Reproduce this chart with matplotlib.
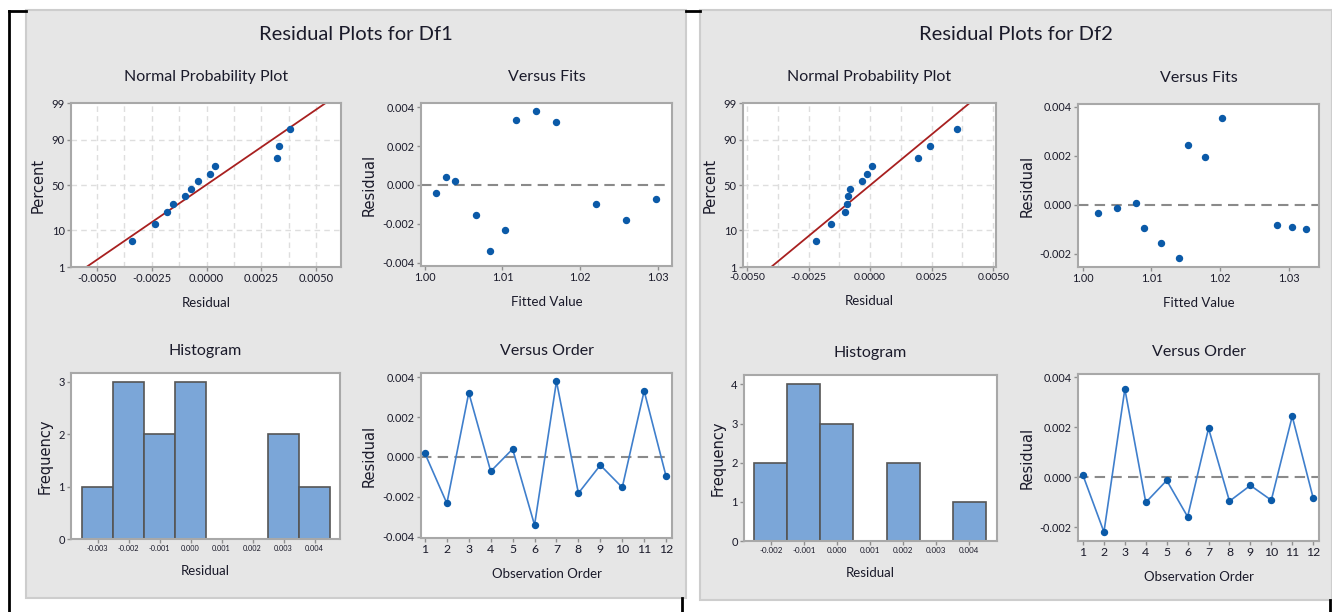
import numpy as np
import matplotlib
matplotlib.use('Agg')
import matplotlib.pyplot as plt
from matplotlib.patches import Rectangle
from matplotlib.lines import Line2D
from matplotlib.ticker import FormatStrFormatter
from statistics import NormalDist

plt.rcParams['font.family'] = ['Lato', 'DejaVu Sans']

# ---- dados ----
obs = list(range(1, 13))

# Df1
res1 = [0.00018, -0.00233, 0.00323, -0.00072, 0.00040, -0.00342,
        0.00380, -0.00182, -0.00041, -0.00153, 0.00332, -0.00097]
fit1 = [1.00393, 1.01034, 1.01684, 1.02974, 1.00274, 1.00846,
        1.01436, 1.02594, 1.00141, 1.00654, 1.01171, 1.02197]
hist1_centers = [-0.003, -0.002, -0.001, 0.0, 0.001, 0.002, 0.003, 0.004]
hist1_counts = [1, 3, 2, 3, 0, 0, 2, 1]

# Df2
res2 = [0.00008, -0.00218, 0.00353, -0.00100, -0.00012, -0.00157,
        0.00196, -0.00095, -0.00032, -0.00091, 0.00244, -0.00082]
fit2 = [1.00769, 1.01398, 1.02018, 1.03246, 1.00498, 1.01142,
        1.01776, 1.00885, 1.00227, 1.03038, 1.01524, 1.02830]
hist2_centers = [-0.002, -0.001, 0.0, 0.001, 0.002, 0.003, 0.004]
hist2_counts = [2, 4, 3, 0, 2, 0, 1]

# percentis do grafico de probabilidade normal
npp_pct = [5.6, 13.7, 21.8, 29.8, 37.9, 46.0, 54.0, 62.1, 70.2, 78.2, 86.3, 94.4]
pct_ticks = [1, 10, 50, 90, 99]

# ---- estilo ----
W, H = 1332, 612
BLUE = '#0b5aa8'
LINE = '#3f7fcc'
RED = '#a82020'
SPINE = '#a8a8a8'
TXT = '#1a1a2a'

_nd = NormalDist()
_ppf = np.vectorize(lambda v: _nd.inv_cdf(v / 100.0), otypes=[float])
_cdf = np.vectorize(lambda z: _nd.cdf(z) * 100.0, otypes=[float])


def fwd(p):
    p = np.clip(np.asarray(p, dtype=float), 1e-9, 100 - 1e-9)
    return _ppf(p)


def inv(z):
    return _cdf(np.asarray(z, dtype=float))


def rect(x0, y0, x1, y1):
    return [x0 / W, 1 - y1 / H, (x1 - x0) / W, (y1 - y0) / H]


def estilo(ax, ylab, xlab, xfs=8, yfs=8):
    for s in ax.spines.values():
        s.set_color(SPINE)
        s.set_linewidth(1.5)
    ax.tick_params(direction='out', length=3, width=1, color='#909090',
                   labelcolor=TXT, pad=1.5)
    ax.tick_params(axis='x', labelsize=xfs)
    ax.tick_params(axis='y', labelsize=yfs)
    ax.set_ylabel(ylab, family=['DejaVu Sans'], fontsize=10.5, color=TXT, labelpad=4)
    ax.set_xlabel(xlab, fontsize=9.5, color=TXT, labelpad=9)


fig = plt.figure(figsize=(W / 100, H / 100), dpi=100)
fig.patch.set_facecolor('white')

# paineis cinza
for (x0, y0, x1, y1) in [(26, 10, 686, 598), (700, 10, 1332, 600)]:
    fig.patches.append(Rectangle((x0 / W, 1 - y1 / H), (x1 - x0) / W, (y1 - y0) / H,
                                 transform=fig.transFigure, facecolor='#e6e6e6',
                                 edgecolor='#cdcdcd', lw=1.5, zorder=-5))

# bordas pretas (tabela)
for xs, ys in [([9, 9], [11, 612]), ([9, 26], [11, 11]), ([686, 700], [11, 11]),
               ([682, 682], [598, 612]), ([1329.5, 1329.5], [600, 612])]:
    fig.add_artist(Line2D([x / W for x in xs], [1 - y / H for y in ys],
                          transform=fig.transFigure, color='black', lw=2, zorder=-4))


def painel(res, fit, hcent, hcount, boxes, lims, titulo, tx, npp_fs, hist_fs):
    b_npp, b_fit, b_hist, b_ord = boxes
    l_npp, l_fit, l_fity, l_hist, l_histy, l_ord, l_ordy, yt_res = lims

    fig.text(tx / W, 1 - 35 / H, titulo, ha='center', va='center',
             fontsize=14.5, color=TXT)

    # Normal Probability Plot
    ax = fig.add_axes(rect(*b_npp))
    ax.set_yscale('function', functions=(fwd, inv))
    srt = np.sort(res)
    mu, sd = np.mean(res), np.std(res, ddof=1)
    xs_line = [mu + sd * _nd.inv_cdf(0.01), mu + sd * _nd.inv_cdf(0.99)]
    for v in np.arange(-0.005, 0.0051, 0.00125):
        ax.axvline(v, color='#dedede', lw=1, ls=(0, (4, 3)), zorder=0)
    for v in [10, 50, 90]:
        ax.axhline(v, color='#dedede', lw=1, ls=(0, (4, 3)), zorder=0)
    ax.plot(xs_line, [1, 99], color=RED, lw=1.3, zorder=2)
    ax.plot(srt, npp_pct, 'o', color=BLUE, ms=4.3, zorder=3)
    ax.set_xlim(*l_npp)
    ax.set_ylim(1, 99)
    ax.set_yticks(pct_ticks)
    ax.set_yticklabels([str(t) for t in pct_ticks])
    ax.minorticks_off()
    ax.set_xticks([-0.005, -0.0025, 0.0, 0.0025, 0.005])
    ax.xaxis.set_major_formatter(FormatStrFormatter('%.4f'))
    estilo(ax, 'Percent', 'Residual', xfs=npp_fs, yfs=8)
    ax.set_title('Normal Probability Plot', fontsize=11.5, color=TXT, pad=16)

    # Versus Fits
    ax = fig.add_axes(rect(*b_fit))
    ax.axhline(0, color='#8a8a8a', lw=1.5, ls=(0, (5, 3)), zorder=1)
    ax.plot(fit, res, 'o', color=BLUE, ms=4.3, zorder=3)
    ax.set_xlim(*l_fit)
    ax.set_ylim(*l_fity)
    ax.set_xticks([1.00, 1.01, 1.02, 1.03])
    ax.xaxis.set_major_formatter(FormatStrFormatter('%.2f'))
    ax.set_yticks(yt_res)
    ax.yaxis.set_major_formatter(FormatStrFormatter('%.3f'))
    estilo(ax, 'Residual', 'Fitted Value', xfs=7.8, yfs=7.8)
    ax.set_title('Versus Fits', fontsize=11.5, color=TXT, pad=16)

    # Histogram
    ax = fig.add_axes(rect(*b_hist))
    ax.bar(hcent, hcount, width=0.001, color='#7ba6d8', edgecolor='#555555',
           lw=1.2, zorder=2)
    ax.set_xlim(*l_hist)
    ax.set_ylim(*l_histy)
    ax.set_xticks(hcent)
    ax.set_xticklabels([f'{c:.3f}' for c in hcent])
    ax.set_yticks(range(0, int(max(hcount)) + 1))
    estilo(ax, 'Frequency', 'Residual', xfs=hist_fs, yfs=8)
    ax.set_title('Histogram', fontsize=11.5, color=TXT, pad=13)

    # Versus Order
    ax = fig.add_axes(rect(*b_ord))
    ax.axhline(0, color='#8a8a8a', lw=1.5, ls=(0, (5, 3)), zorder=1)
    ax.plot(obs, res, '-', color=LINE, lw=1.2, zorder=2)
    ax.plot(obs, res, 'o', color=BLUE, ms=4.3, zorder=3)
    ax.set_xlim(*l_ord)
    ax.set_ylim(*l_ordy)
    ax.set_xticks(obs)
    ax.set_yticks(yt_res)
    ax.yaxis.set_major_formatter(FormatStrFormatter('%.3f'))
    estilo(ax, 'Residual', 'Observation Order', xfs=8.8, yfs=7.8)
    ax.set_title('Versus Order', fontsize=11.5, color=TXT, pad=13)


painel(res1, fit1, hist1_centers, hist1_counts,
       [(71, 103, 341, 267), (421, 103, 672, 266), (71, 373, 340, 539), (421, 373, 672, 538)],
       [(-0.00618, 0.00613), (0.99953, 1.0318), (-0.00417, 0.00422),
        (-0.00386, 0.00482), (0, 3.17), (0.82, 12.27), (-0.00407, 0.00422),
        [-0.004, -0.002, 0.0, 0.002, 0.004]],
       'Residual Plots for Df1', 356, 8, 5.3)

painel(res2, fit2, hist2_centers, hist2_counts,
       [(743, 103, 996, 267), (1078, 104, 1319, 267), (744, 375, 997, 541), (1078, 374, 1319, 541)],
       [(-0.00516, 0.00511), (0.99932, 1.03435), (-0.00253, 0.00411),
        (-0.00281, 0.00484), (0, 4.24), (0.76, 12.28), (-0.00254, 0.00413),
        [-0.002, 0.0, 0.002, 0.004]],
       'Residual Plots for Df2', 1016, 7.5, 5.8)

fig.savefig('out.png', dpi=100)
